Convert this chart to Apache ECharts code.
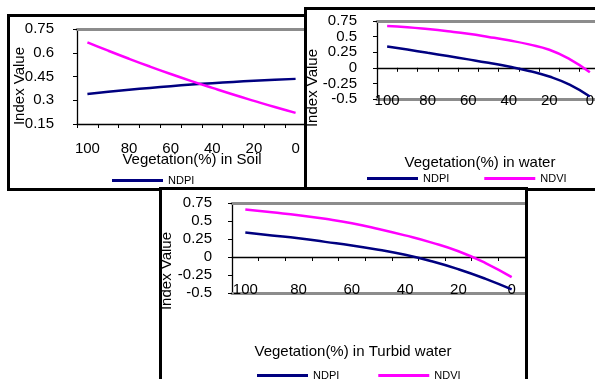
<!DOCTYPE html>
<html>
<head>
<meta charset="utf-8">
<script src="https://cdn.jsdelivr.net/npm/echarts@6/dist/echarts.min.js"></script>
<style>
html, body { margin: 0; padding: 0; background: #fff; width: 595px; height: 379px; overflow: hidden; }
.panel { position: absolute; border: 3px solid #000; background: #fff; box-sizing: border-box; }
.panel .chart { width: 100%; height: 100%; }
#soil { left: 7px; top: 14px; width: 340px; height: 177px; z-index: 1; }
#water { left: 304px; top: 7px; width: 300px; height: 184px; z-index: 2; }
#turbid { left: 159px; top: 187px; width: 369px; height: 220px; z-index: 3; }
</style>
</head>
<body>
<div class="panel" id="soil"><div class="chart" id="soilChart"></div></div>
<div class="panel" id="water"><div class="chart" id="waterChart"></div></div>
<div class="panel" id="turbid"><div class="chart" id="turbidChart"></div></div>
<script>
// vegetation percentage, left to right
const vegetation = ['100', '90', '80', '70', '60', '50', '40', '30', '20', '10', '0'];

// soil panel
const soilNDPI = [0.34, 0.353, 0.366, 0.378, 0.389, 0.399, 0.408, 0.416, 0.423, 0.429, 0.435];
const soilNDVI = [0.666, 0.613, 0.562, 0.513, 0.466, 0.421, 0.378, 0.336, 0.296, 0.257, 0.22];
// water panel
const waterNDPI = [0.34, 0.292, 0.24, 0.188, 0.135, 0.08, 0.02, -0.05, -0.14, -0.27, -0.46];
const waterNDVI = [0.67, 0.65, 0.62, 0.585, 0.545, 0.495, 0.44, 0.375, 0.29, 0.14, -0.07];
// turbid water panel
const turbidNDPI = [0.34, 0.30, 0.26, 0.21, 0.16, 0.10, 0.03, -0.06, -0.17, -0.30, -0.45];
const turbidNDVI = [0.66, 0.62, 0.58, 0.53, 0.47, 0.39, 0.30, 0.20, 0.08, -0.08, -0.28];

// y axis ticks
const soilTicks = [0.15, 0.75, 0.15];      // min, max, step
const waterTicks = [-0.5, 0.75, 0.25];

const FONT = "'Liberation Sans', Arial, sans-serif";

function buildOption(cfg) {
    const xAxes = [
        {
            type: 'category',
            data: vegetation,
            boundaryGap: true,
            axisLine: { onZero: true, lineStyle: { color: '#000', width: 1.3 } },
            axisTick: { show: true, interval: 0, length: 4, lineStyle: { color: '#000' } },
            axisLabel: { interval: 1, margin: cfg.xLabelMargin, fontSize: 15, color: '#000', fontFamily: FONT },
            splitLine: { show: false }
        },
        {
            // grey frame on top of the plot
            type: 'category',
            data: vegetation,
            position: 'top',
            axisLine: { lineStyle: { color: '#8c8c8c', width: 3 } },
            axisTick: { show: false },
            axisLabel: { show: false }
        }
    ];
    if (cfg.bottomFrame) {
        xAxes.push({
            type: 'category',
            data: vegetation,
            position: 'bottom',
            axisLine: { onZero: false, lineStyle: { color: '#8c8c8c', width: 3 } },
            axisTick: { show: false },
            axisLabel: { show: false }
        });
    }
    return {
        animation: false,
        textStyle: { fontFamily: FONT },
        grid: cfg.grid,
        legend: {
            data: cfg.legendData,
            left: cfg.legend[0],
            top: cfg.legend[1],
            padding: 0,
            itemGap: cfg.legend[2],
            icon: 'rect',
            itemWidth: 51,
            itemHeight: 3,
            selectedMode: false,
            textStyle: { fontSize: 11, color: '#000', fontFamily: FONT }
        },
        xAxis: xAxes,
        yAxis: {
            type: 'value',
            min: cfg.ticks[0],
            max: cfg.ticks[1],
            interval: cfg.ticks[2],
            axisLine: { show: true, lineStyle: { color: '#000', width: 1.3 } },
            axisTick: { show: true, length: 4, lineStyle: { color: '#000' } },
            axisLabel: { margin: cfg.yLabelMargin, fontSize: 15, color: '#000', fontFamily: FONT },
            splitLine: { show: false }
        },
        series: [
            { name: 'NDPI', type: 'line', data: cfg.ndpi, smooth: true, symbol: 'none',
              lineStyle: { color: '#000080', width: 2.5 }, itemStyle: { color: '#000080' } },
            { name: 'NDVI', type: 'line', data: cfg.ndvi, smooth: true, symbol: 'none',
              lineStyle: { color: '#ff00ff', width: 2.5 }, itemStyle: { color: '#ff00ff' } }
        ],
        graphic: [
            { type: 'text', x: cfg.xTitle[0], y: cfg.xTitle[1], z: 100,
              style: { text: cfg.xName, fontSize: 15, fontFamily: FONT, fill: '#000', align: 'center', verticalAlign: 'middle' } },
            { type: 'text', x: cfg.yTitle[0], y: cfg.yTitle[1], rotation: Math.PI / 2, z: 100,
              style: { text: 'Index Value', fontSize: 15, fontFamily: FONT, fill: '#000', align: 'center', verticalAlign: 'middle' } }
        ]
    };
}

const soilChart = echarts.init(document.getElementById('soilChart'));
soilChart.setOption(buildOption({
    grid: { left: 67, top: 12, width: 229, height: 95 },
    ticks: soilTicks,
    ndpi: soilNDPI, ndvi: soilNDVI,
    legendData: ['NDPI'],
    legend: [102, 158, 35],
    xLabelMargin: 17,
    yLabelMargin: 23,
    bottomFrame: false,
    xName: 'Vegetation(%) in Soil',
    xTitle: [182, 143],
    yTitle: [10, 69]
}));

const waterChart = echarts.init(document.getElementById('waterChart'));
waterChart.setOption(buildOption({
    grid: { left: 70, top: 11, width: 223, height: 78 },
    ticks: waterTicks,
    ndpi: waterNDPI, ndvi: waterNDVI,
    legendData: ['NDPI', 'NDVI'],
    legend: [60, 163, 35],
    xLabelMargin: -6,
    yLabelMargin: 20,
    bottomFrame: true,
    xName: 'Vegetation(%) in water',
    xTitle: [173, 153],
    yTitle: [6, 78]
}));

const turbidChart = echarts.init(document.getElementById('turbidChart'));
turbidChart.setOption(buildOption({
    grid: { left: 70, top: 13, width: 293, height: 90 },
    ticks: waterTicks,
    ndpi: turbidNDPI, ndvi: turbidNDVI,
    legendData: ['NDPI', 'NDVI'],
    legend: [95, 180, 39],
    xLabelMargin: -11,
    yLabelMargin: 20,
    bottomFrame: true,
    xName: 'Vegetation(%) in Turbid water',
    xTitle: [191, 162],
    yTitle: [5, 81]
}));
</script>
</body>
</html>
